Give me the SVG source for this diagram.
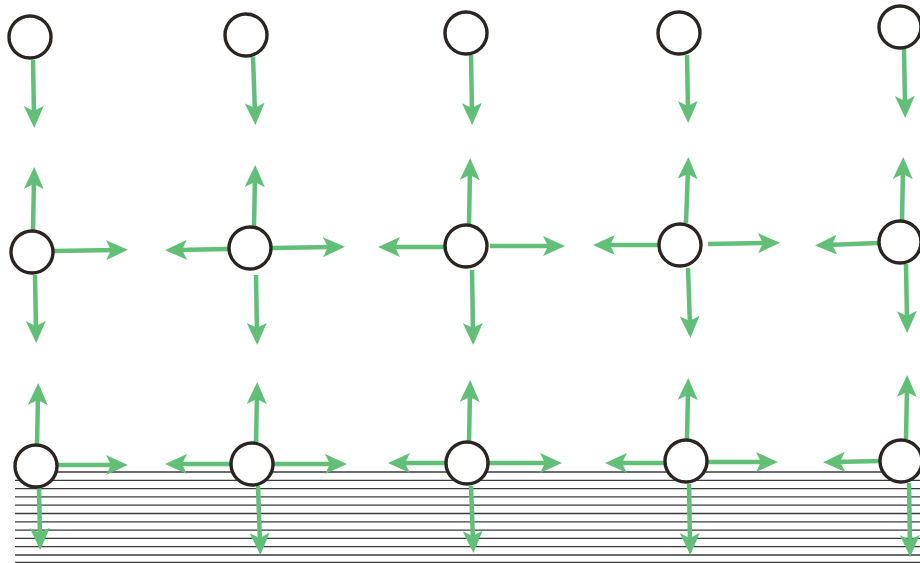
<svg xmlns="http://www.w3.org/2000/svg" width="920" height="563" viewBox="0 0 920 563">
<style>
.node{fill:#ffffff;stroke:#2b2522;stroke-width:3.4}
.arr{stroke:#62bf78;stroke-width:4.5;fill:none;marker-end:url(#ah)}
.hatch{stroke:#3a3a3a;stroke-width:1.3}
</style>
<defs>
<marker id="ah" markerUnits="userSpaceOnUse" markerWidth="24" markerHeight="20" refX="10" refY="10" orient="auto" viewBox="0 0 24 20">
<path d="M0,0 L22,10 L0,20 L5,10 Z" fill="#62bf78"/>
</marker>
</defs>
<rect width="920" height="563" fill="#ffffff"/>
<g id="ground">
<line class="hatch" x1="15" y1="472" x2="920" y2="472"/>
<line class="hatch" x1="15" y1="480.3" x2="920" y2="480.3"/>
<line class="hatch" x1="15" y1="488.6" x2="920" y2="488.6"/>
<line class="hatch" x1="15" y1="496.9" x2="920" y2="496.9"/>
<line class="hatch" x1="15" y1="505.2" x2="920" y2="505.2"/>
<line class="hatch" x1="15" y1="513.5" x2="920" y2="513.5"/>
<line class="hatch" x1="15" y1="521.8" x2="920" y2="521.8"/>
<line class="hatch" x1="15" y1="530.1" x2="920" y2="530.1"/>
<line class="hatch" x1="15" y1="538.4" x2="920" y2="538.4"/>
<line class="hatch" x1="15" y1="546.7" x2="920" y2="546.7"/>
<line class="hatch" x1="15" y1="555" x2="920" y2="555"/>
<line class="hatch" x1="15" y1="562.5" x2="920" y2="562.5"/>
</g>
<g id="connectors">
<!-- column 1 -->
<line class="arr" x1="33" y1="60" x2="34" y2="116"/>
<line class="arr" x1="33" y1="230" x2="34" y2="179"/>
<line class="arr" x1="54" y1="251" x2="116" y2="250"/>
<line class="arr" x1="35" y1="275" x2="36" y2="331"/>
<line class="arr" x1="37" y1="445" x2="38" y2="395"/>
<line class="arr" x1="58" y1="465" x2="116" y2="465"/>
<line class="arr" x1="39" y1="488" x2="40" y2="538"/>
<!-- column 2 -->
<line class="arr" x1="253" y1="57" x2="255" y2="113"/>
<line class="arr" x1="254" y1="226" x2="255" y2="177"/>
<line class="arr" x1="228" y1="249" x2="177" y2="250"/>
<line class="arr" x1="272" y1="248" x2="333" y2="247"/>
<line class="arr" x1="256" y1="275" x2="257" y2="333"/>
<line class="arr" x1="256" y1="443" x2="257" y2="394"/>
<line class="arr" x1="231" y1="464" x2="177" y2="464"/>
<line class="arr" x1="274" y1="464" x2="335" y2="464"/>
<line class="arr" x1="258" y1="486" x2="260" y2="543"/>
<!-- column 3 -->
<line class="arr" x1="471" y1="55" x2="472" y2="113"/>
<line class="arr" x1="469" y1="224" x2="470" y2="170"/>
<line class="arr" x1="444" y1="247" x2="390" y2="247"/>
<line class="arr" x1="490" y1="246" x2="553" y2="246"/>
<line class="arr" x1="472" y1="270" x2="473" y2="333"/>
<line class="arr" x1="469" y1="441" x2="470" y2="392"/>
<line class="arr" x1="445" y1="463" x2="400" y2="463"/>
<line class="arr" x1="489" y1="463" x2="550" y2="463"/>
<line class="arr" x1="471" y1="486" x2="473" y2="541"/>
<!-- column 4 -->
<line class="arr" x1="687" y1="55" x2="688" y2="111"/>
<line class="arr" x1="686" y1="223" x2="688" y2="169"/>
<line class="arr" x1="658" y1="245" x2="605" y2="245"/>
<line class="arr" x1="708" y1="244" x2="768" y2="243"/>
<line class="arr" x1="688" y1="268" x2="690" y2="326"/>
<line class="arr" x1="687" y1="439" x2="688" y2="390"/>
<line class="arr" x1="664" y1="463" x2="617" y2="463"/>
<line class="arr" x1="708" y1="462" x2="766" y2="462"/>
<line class="arr" x1="689" y1="484" x2="690" y2="543"/>
<!-- column 5 -->
<line class="arr" x1="904" y1="49" x2="905" y2="106"/>
<line class="arr" x1="902" y1="220" x2="903" y2="169"/>
<line class="arr" x1="878" y1="243" x2="827" y2="245"/>
<line class="arr" x1="906" y1="264" x2="907" y2="321"/>
<line class="arr" x1="906" y1="439" x2="907" y2="387"/>
<line class="arr" x1="879" y1="461" x2="835" y2="462"/>
<line class="arr" x1="909" y1="483" x2="910" y2="545"/>
</g>
<g id="n1a"><circle class="node" cx="30" cy="37" r="21"/></g>
<g id="n1b"><circle class="node" cx="32" cy="252" r="21"/></g>
<g id="n1c"><circle class="node" cx="36" cy="466" r="21"/></g>
<g id="n2a"><circle class="node" cx="246" cy="35" r="21"/></g>
<g id="n2b"><circle class="node" cx="250" cy="248" r="21"/></g>
<g id="n2c"><circle class="node" cx="252" cy="464" r="21"/></g>
<g id="n3a"><circle class="node" cx="466" cy="33" r="21"/></g>
<g id="n3b"><circle class="node" cx="466" cy="246" r="21"/></g>
<g id="n3c"><circle class="node" cx="467" cy="463" r="21"/></g>
<g id="n4a"><circle class="node" cx="679" cy="33" r="21"/></g>
<g id="n4b"><circle class="node" cx="680" cy="245" r="21"/></g>
<g id="n4c"><circle class="node" cx="686" cy="461" r="21"/></g>
<g id="n5a"><circle class="node" cx="900" cy="27" r="21"/></g>
<g id="n5b"><circle class="node" cx="900" cy="242" r="21"/></g>
<g id="n5c"><circle class="node" cx="901" cy="461" r="21"/></g>
</svg>
